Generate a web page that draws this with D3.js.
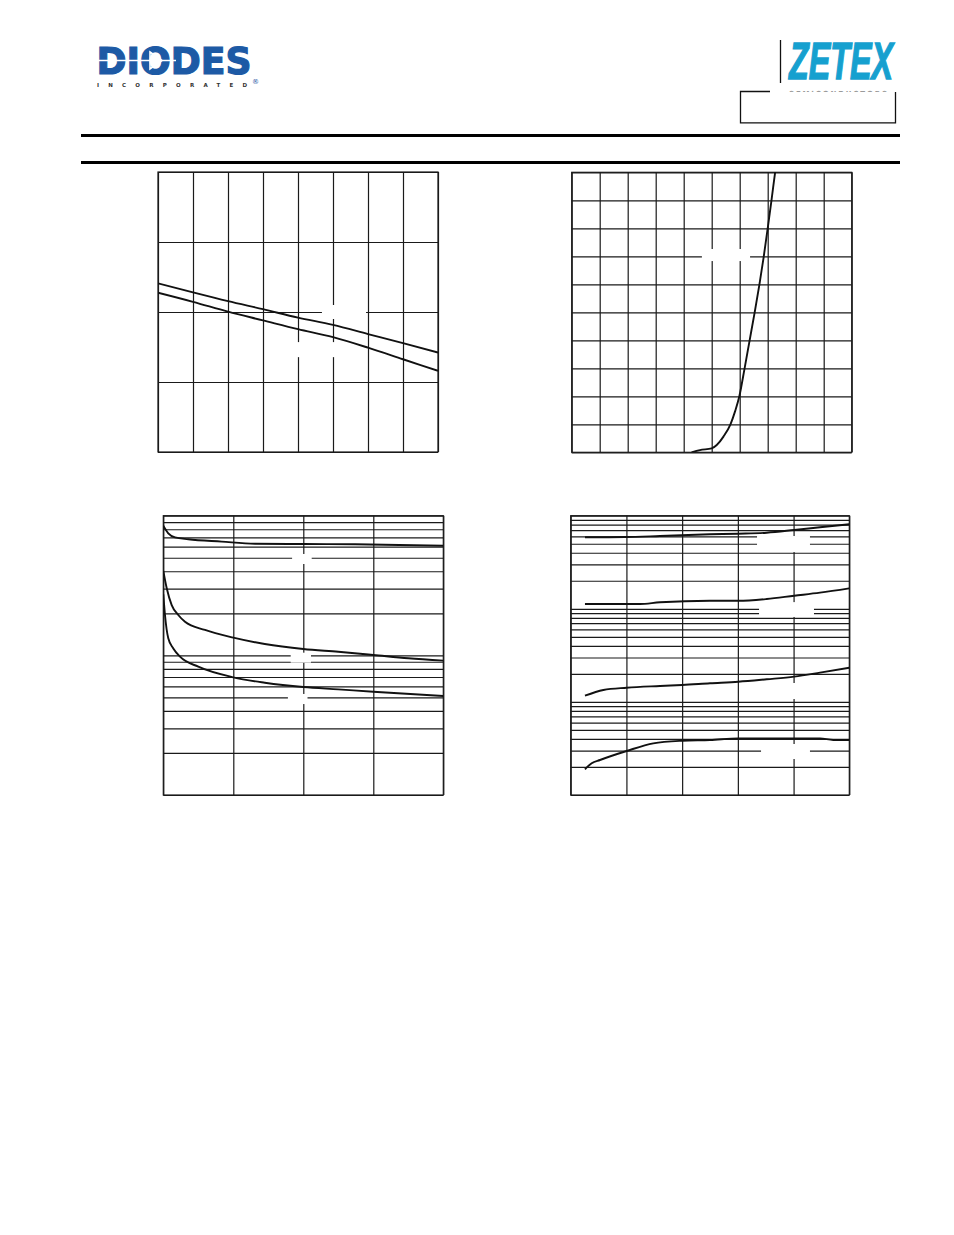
<!DOCTYPE html>
<html>
<head>
<meta charset="utf-8">
<script src="https://cdn.jsdelivr.net/npm/d3@7"></script>
<style>
  html, body { margin: 0; padding: 0; background: #fff; }
  svg { display: block; }
</style>
</head>
<body>
<script>
// ---------------- DATA ----------------
// Chart 1 (top-left): linear x (8 divisions), linear y (4 divisions)
const c1XTicks = [-50, -25, 0, 25, 50, 75, 100, 125, 150];
const c1YTicks = [0.4, 0.6, 0.8, 1.0, 1.2];
const c1X      = [-50, -25, 0, 25, 50, 75, 100, 125, 150];
const c1Upper  = [0.882, 0.856, 0.831, 0.808, 0.784, 0.763, 0.737, 0.711, 0.684];
const c1Lower  = [0.855, 0.829, 0.801, 0.776, 0.751, 0.728, 0.698, 0.665, 0.632];

// Chart 2 (top-right): linear x (10 div), linear y (10 div)
const c2XTicks = [0, 0.1, 0.2, 0.3, 0.4, 0.5, 0.6, 0.7, 0.8, 0.9, 1.0];
const c2YTicks = [0, 0.1, 0.2, 0.3, 0.4, 0.5, 0.6, 0.7, 0.8, 0.9, 1.0];
const c2X = [0.428, 0.458, 0.500, 0.518, 0.542, 0.567, 0.584, 0.5987, 0.6175, 0.6355, 0.6535, 0.6705, 0.6860, 0.7000, 0.7135, 0.7265, 0.732];
const c2Y = [0.000, 0.008, 0.014, 0.026, 0.056, 0.100, 0.148, 0.200,  0.300,  0.400,  0.500,  0.600,  0.700,  0.800,  0.900,  1.000,  1.040];

// Chart 3 (bottom-left): linear x (4 div), log y (1..100)
const c3XTicks = [0, 10, 20, 30, 40];
const c3YTicks = [1,2,3,4,5,6,7,8,9,10,20,30,40,50,60,70,80,90,100];
const c3AX = [0, 0.71, 1.67, 3.57, 8.34, 13.1, 20, 27.4, 40];
const c3AY = [84.8, 74.8, 70.0, 67.8, 65.2, 63.0, 62.7, 62.4, 61.0];
const c3BX = [0, 0.49, 1.2, 2.14, 3.1, 5.96, 10, 14.5, 20, 25, 30, 35, 40];
const c3BY = [40.2, 30.2, 22.9, 19.45, 17.4, 15.2, 13.4, 12.06, 11.1, 10.6, 10.06, 9.53, 9.16];
const c3CX = [0, 0.24, 0.71, 1.43, 2.39, 5, 10, 14.5, 20, 25, 30, 40];
const c3CY = [27.4, 19.45, 13.25, 11.2, 9.78, 8.29, 6.96, 6.37, 5.93, 5.71, 5.49, 5.12];

// Chart 4 (bottom-right): linear x (5 div), log y (0.1..100)
const c4XTicks = [-100, -50, 0, 50, 100, 150];
const c4YTicks = [0.1,0.2,0.3,0.4,0.5,0.6,0.7,0.8,0.9,1,2,3,4,5,6,7,8,9,10,20,30,40,50,60,70,80,90,100];
const c4X1 = [-87.2, -51.3, -19.9, 25, 50.4, 75.9, 100.6, 123.7, 150];
const c4Y1 = [58.6, 59.0, 60.5, 63.1, 64.1, 65.7, 70.2, 75.1, 80.8];
const c4X2 = [-87.2, -37.9, -19.9, 25, 50.4, 75.9, 100.6, 123.7, 150];
const c4Y2 = [11.26, 11.26, 11.75, 12.2, 12.2, 12.74, 13.82, 14.9, 16.6];
const c4X3 = [-87.2, -70.7, -49.8, -19.9, 0.1, 25, 50.4, 75.9, 100.6, 123.7, 150];
const c4Y3 = [1.166, 1.343, 1.42, 1.482, 1.519, 1.585, 1.648, 1.75, 1.866, 2.06, 2.33];
const c4X4 = [-87.2, -81.2, -73.7, -49.8, -25.9, 0.1, 25, 50.4, 75.9, 123.7, 135.6, 150];
const c4Y4 = [0.1888, 0.219, 0.2377, 0.297, 0.359, 0.383, 0.39, 0.406, 0.406, 0.406, 0.39, 0.39];

// Label-mask boxes (data units: [x0, x1, y0, y1]) where curve labels were
const c1Masks = [[67.1, 98.6, 0.82, 0.78], [44.3, 83.6, 0.714, 0.671]];
const c2Masks = [[0.465, 0.637, 0.726, 0.683]];
const c3Masks = [[18.4, 21.2, 53.2, 45.1], [18.2, 21.1, 10.45, 8.86], [17.8, 20.6, 5.29, 4.48]];
const c4Masks = [[67.2, 114.7, 60.5, 40.7], [69, 118.3, 11.8, 8.17], [67.2, 116.5, 1.596, 1.074], [70.8, 114.7, 0.353, 0.2435]];

// ---------------- DRAW ----------------
const W = 954, H = 1235;
const svg = d3.select("body").append("svg").attr("width", W).attr("height", H);
svg.append("rect").attr("width", W).attr("height", H).attr("fill", "#fff");

// Header: logos and rules
const hdr = svg.append("g");
hdr.append("text").attr("x", 96.5).attr("y", 73.5)
  .attr("font-family", "DejaVu Sans").attr("font-weight", "bold")
  .attr("font-size", 36.5).attr("fill", "#1d5aa5")
  .attr("stroke", "#1d5aa5").attr("stroke-width", 1.2)
  .attr("textLength", 155).attr("lengthAdjust", "spacingAndGlyphs")
  .text("DIODES");
// white diode arrow cut through the letters
hdr.append("line").attr("x1", 96).attr("x2", 176).attr("y1", 60.5).attr("y2", 60.5)
  .attr("stroke", "#fff").attr("stroke-width", 1.6);
hdr.append("path").attr("d", "M150,52 L162,60.5 L150,69 Z").attr("fill", "none")
  .attr("stroke", "#fff").attr("stroke-width", 1.6);
hdr.append("text").attr("x", 97).attr("y", 87)
  .attr("font-family", "DejaVu Sans").attr("font-weight", "bold")
  .attr("font-size", 5.5).attr("fill", "#333")
  .attr("textLength", 150).attr("lengthAdjust", "spacing")
  .text("INCORPORATED");
hdr.append("text").attr("x", 252).attr("y", 84)
  .attr("font-family", "DejaVu Sans").attr("font-size", 7).attr("fill", "#1d5aa5")
  .text("®");

hdr.append("line").attr("x1", 780.5).attr("x2", 780.5).attr("y1", 40).attr("y2", 83)
  .attr("stroke", "#111").attr("stroke-width", 1.3);
hdr.append("text").attr("x", 789).attr("y", 78.5)
  .attr("font-family", "Liberation Sans").attr("font-weight", "bold").attr("font-style", "italic")
  .attr("font-size", 51).attr("fill", "#16a0cf")
  .attr("stroke", "#16a0cf").attr("stroke-width", 1.4)
  .attr("textLength", 104).attr("lengthAdjust", "spacingAndGlyphs")
  .text("ZETEX");
hdr.append("text").attr("x", 789).attr("y", 96)
  .attr("font-family", "DejaVu Sans").attr("font-weight", "bold")
  .attr("font-size", 7).attr("fill", "#9a9a9a")
  .attr("textLength", 98).attr("lengthAdjust", "spacing")
  .text("SEMICONDUCTORS");
hdr.append("rect").attr("x", 741).attr("y", 92).attr("width", 154).attr("height", 30)
  .attr("fill", "#fff");
hdr.append("path").attr("d", "M770,91.5 L740.5,91.5 L740.5,122.8 L895.5,122.8 L895.5,92")
  .attr("fill", "none").attr("stroke", "#111").attr("stroke-width", 1.3);

hdr.append("rect").attr("x", 81).attr("y", 134).attr("width", 819).attr("height", 3).attr("fill", "#000");
hdr.append("rect").attr("x", 81).attr("y", 161).attr("width", 819).attr("height", 3).attr("fill", "#000");

function chart(cfg) {
  const g = svg.append("g");
  const x = d3.scaleLinear().domain(cfg.xDomain).range([cfg.left, cfg.right]);
  const y = (cfg.log ? d3.scaleLog() : d3.scaleLinear()).domain(cfg.yDomain).range([cfg.bottom, cfg.top]);
  const w = cfg.right - cfg.left, h = cfg.bottom - cfg.top;

  const gx = g.append("g").attr("transform", `translate(0,${cfg.bottom})`)
    .call(d3.axisBottom(x).tickValues(cfg.xTicks).tickSize(-h).tickFormat(""));
  const gy = g.append("g").attr("transform", `translate(${cfg.left},0)`)
    .call(d3.axisLeft(y).tickValues(cfg.yTicks).tickSize(-w).tickFormat(""));
  [gx, gy].forEach(a => {
    a.select(".domain").remove();
    a.selectAll("line").attr("stroke", "#1a1a1a").attr("stroke-width", 1.2);
  });
  g.append("rect").attr("x", cfg.left).attr("y", cfg.top).attr("width", w).attr("height", h)
    .attr("fill", "none").attr("stroke", "#1a1a1a").attr("stroke-width", 1.2);

  // label masks
  g.selectAll("rect.mask").data(cfg.masks).join("rect").attr("class", "mask")
    .attr("x", d => x(d[0])).attr("width", d => x(d[1]) - x(d[0]))
    .attr("y", d => y(d[2])).attr("height", d => y(d[3]) - y(d[2]))
    .attr("fill", "#fff");

  const clipId = "clip" + cfg.id;
  svg.append("clipPath").attr("id", clipId).append("rect")
    .attr("x", cfg.left).attr("y", cfg.top).attr("width", w).attr("height", h);
  const line = d3.line().x(d => x(d[0])).y(d => y(d[1])).curve(d3.curveMonotoneX);
  cfg.series.forEach(s => {
    g.append("path").datum(d3.zip(s[0], s[1]))
      .attr("clip-path", `url(#${clipId})`)
      .attr("fill", "none").attr("stroke", "#111").attr("stroke-width", 1.9)
      .attr("d", line);
  });
}

chart({ id: 1, left: 158, right: 438, top: 172, bottom: 452,
  xDomain: [-50, 150], yDomain: [0.4, 1.2], xTicks: c1XTicks, yTicks: c1YTicks,
  masks: c1Masks, series: [[c1X, c1Upper], [c1X, c1Lower]] });

chart({ id: 2, left: 571.7, right: 851.7, top: 172.3, bottom: 452.3,
  xDomain: [0, 1], yDomain: [0, 1], xTicks: c2XTicks, yTicks: c2YTicks,
  masks: c2Masks, series: [[c2X, c2Y]] });

chart({ id: 3, left: 163.3, right: 443.3, top: 515.7, bottom: 795, log: true,
  xDomain: [0, 40], yDomain: [1, 100], xTicks: c3XTicks, yTicks: c3YTicks,
  masks: c3Masks, series: [[c3AX, c3AY], [c3BX, c3BY], [c3CX, c3CY]] });

chart({ id: 4, left: 570.7, right: 849.3, top: 515.7, bottom: 795, log: true,
  xDomain: [-100, 150], yDomain: [0.1, 100], xTicks: c4XTicks, yTicks: c4YTicks,
  masks: c4Masks, series: [[c4X1, c4Y1], [c4X2, c4Y2], [c4X3, c4Y3], [c4X4, c4Y4]] });
</script>
</body>
</html>
